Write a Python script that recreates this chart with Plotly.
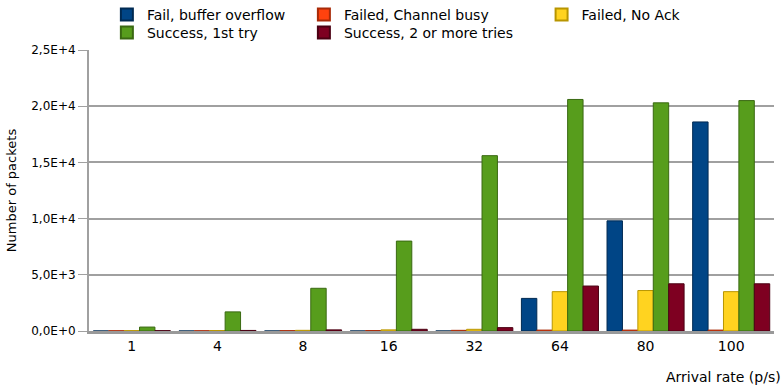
import plotly.graph_objects as go

categories = ["1", "4", "8", "16", "32", "64", "80", "100"]
fail_buffer = [0, 0, 0, 0, 0, 2900, 9800, 18600]
fail_busy = [20, 20, 30, 40, 60, 80, 80, 80]
fail_noack = [30, 40, 60, 100, 150, 3500, 3600, 3500]
success_1st = [350, 1700, 3800, 8000, 15600, 20600, 20300, 20500]
success_2plus = [30, 50, 100, 150, 300, 4000, 4200, 4200]

series_names = ["Fail, buffer overflow", "Failed, Channel busy", "Failed, No Ack",
                "Success, 1st try", "Success, 2 or more tries"]
series_colors = ["#004586", "#ff420e", "#ffd320", "#579d1c", "#7e0021"]
series_edges = ["#002a52", "#a82a08", "#b89500", "#3a6912", "#4a0013"]
series_values = [fail_buffer, fail_busy, fail_noack, success_1st, success_2plus]

y_tickvals = [0, 5000, 10000, 15000, 20000, 25000]
y_ticktext = ["0,0E+0", "5,0E+3", "1,0E+4", "1,5E+4", "2,0E+4", "2,5E+4"]

FONT = "DejaVu Sans"

# one legend box per entry, arranged in a 3-column / 2-row grid like the reference
legend_ids = ["legend", "legend2", "legend3", "legend4", "legend5"]
col_x = [0.0261, 0.3137, 0.6607]
row_y = [1.182, 1.118]
legend_pos = [(col_x[0], row_y[0]), (col_x[1], row_y[0]), (col_x[2], row_y[0]),
              (col_x[0], row_y[1]), (col_x[1], row_y[1])]

fig = go.Figure()
for name, vals, col, edge, lg in zip(series_names, series_values, series_colors,
                                     series_edges, legend_ids):
    fig.add_trace(go.Bar(x=categories, y=vals, name=name, legend=lg, showlegend=True,
                         marker=dict(color=col, line=dict(color=edge, width=1))))

legend_layout = {}
for lg, (lx, ly) in zip(legend_ids, legend_pos):
    legend_layout[lg] = dict(orientation="v", yanchor="top", y=ly, xanchor="left", x=lx,
                             font=dict(family=FONT, size=14, color="#000000"),
                             bgcolor="rgba(0,0,0,0)", borderwidth=0,
                             itemsizing="constant", visible=True)

fig.update_layout(
    width=784, height=390,
    showlegend=True,
    margin=dict(l=89, r=10, t=50, b=59, autoexpand=False),
    paper_bgcolor="white", plot_bgcolor="white",
    barmode="group", bargap=0.1, bargroupgap=0.0,
    font=dict(family=FONT, size=12, color="#000000"),
    xaxis=dict(type="category", showgrid=False, showline=True, linecolor="#999999",
               linewidth=3, ticks="", tickfont=dict(family=FONT, size=14)),
    yaxis=dict(range=[0, 25000], tickvals=y_tickvals, ticktext=y_ticktext,
               showgrid=True, gridcolor="#a0a0a0", gridwidth=2,
               showline=True, linecolor="#a0a0a0", linewidth=2,
               ticks="outside", ticklen=9, tickcolor="#a0a0a0",
               tickfont=dict(family=FONT, size=12), zeroline=False,
               title=dict(text="Number of packets", font=dict(family=FONT, size=13),
                          standoff=12)),
    annotations=[dict(text="Arrival rate (p/s)", xref="paper", yref="paper",
                      x=1.013, y=-0.164, xanchor="right", yanchor="middle",
                      showarrow=False, font=dict(family=FONT, size=14))],
    **legend_layout,
)

fig.write_html("out.html", config={"displayModeBar": False},
               post_script="document.body.style.margin='0';")
